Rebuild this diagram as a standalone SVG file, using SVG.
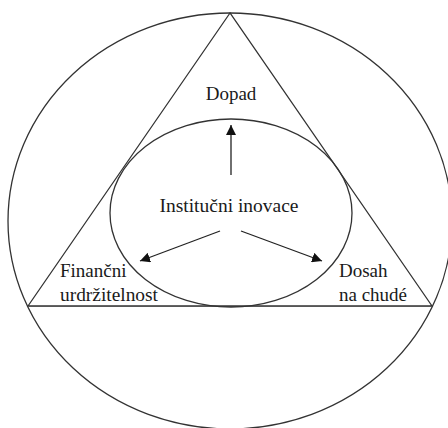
<svg xmlns="http://www.w3.org/2000/svg" width="448" height="428" viewBox="0 0 448 428">
<defs>
<style>
.shape{fill:none;stroke:#333;stroke-width:1.3}
.lbl{font-size:19px;fill:#1a1a1a}
.conn{stroke:#222;stroke-width:1.3;fill:none}
</style>
<marker id="ah" viewBox="0 0 10 10" refX="10" refY="5" markerWidth="10" markerHeight="10" markerUnits="userSpaceOnUse" orient="auto">
<path d="M0,0 L10,5 L0,10 Z" fill="#111"/>
</marker>
</defs>
<rect width="448" height="428" fill="#fff"/>
<g id="outer">
<ellipse class="shape" cx="230" cy="221" rx="222" ry="208"/>
</g>
<g id="triangle">
<polygon class="shape" points="230,13 28,306 432,306"/>
<line x1="28" y1="306.5" x2="432" y2="306.5" stroke="#555" stroke-width="1"/>
</g>
<g id="inner">
<ellipse class="shape" cx="231" cy="213" rx="121" ry="94"/>
</g>
<g font-family="'Liberation Serif', 'DejaVu Serif', serif">
<g id="dopad"><text class="lbl" x="231" y="100" text-anchor="middle">Dopad</text></g>
<g id="instituce"><text class="lbl" x="229" y="212" text-anchor="middle" textLength="139" lengthAdjust="spacingAndGlyphs">Institučni inovace</text></g>
<g id="financni">
<text class="lbl" x="60" y="277">Finančni</text>
<text class="lbl" x="60" y="301" textLength="98" lengthAdjust="spacingAndGlyphs">urdržitelnost</text>
</g>
<g id="dosah">
<text class="lbl" x="339" y="277">Dosah</text>
<text class="lbl" x="339" y="301">na chudé</text>
</g>
</g>
<g id="connectors">
<line class="conn" x1="231" y1="175" x2="231" y2="125" marker-end="url(#ah)"/>
<line class="conn" x1="220" y1="231" x2="140" y2="261" marker-end="url(#ah)"/>
<line class="conn" x1="241" y1="231" x2="322" y2="261" marker-end="url(#ah)"/>
</g>
</svg>
